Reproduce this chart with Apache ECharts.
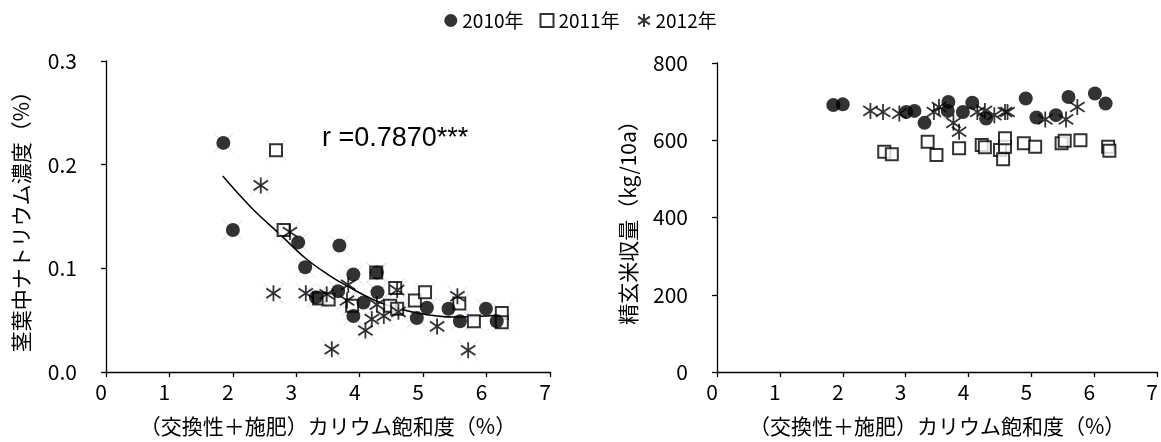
<!DOCTYPE html>
<html><head><meta charset="utf-8">
<script src="https://cdn.jsdelivr.net/npm/echarts@6/dist/echarts.min.js"></script>
<style>html,body{margin:0;padding:0;background:#fff}#c{width:1161px;height:442px}</style>
</head><body><div id="c"></div>
<script>
const seriesNames = ['2010年', '2011年', '2012年'];
const xAxisTitle = '（交換性＋施肥）カリウム飽和度（%）';
const leftYTitle = '茎葉中ナトリウム濃度（%）';
const rightYTitle = '精玄米収量（kg/10a）';
const corrText = 'r =0.7870***';

// Left chart: potassium saturation (%) vs sodium concentration (%)
const na2010 = [[1.85,0.221],[2.00,0.137],[3.03,0.125],[3.14,0.101],[3.31,0.072],[3.66,0.078],[3.68,0.122],[3.90,0.094],[3.90,0.054],[4.06,0.067],[4.27,0.096],[4.28,0.077],[4.90,0.052],[5.06,0.062],[5.40,0.061],[5.58,0.049],[5.99,0.061],[6.16,0.049]];
const na2011 = [[2.68,0.214],[2.80,0.137],[3.36,0.071],[3.51,0.070],[3.88,0.064],[4.26,0.096],[4.48,0.064],[4.56,0.081],[4.59,0.061],[4.87,0.069],[5.03,0.077],[5.57,0.066],[5.80,0.049],[6.24,0.057],[6.24,0.048]];
const na2012 = [[2.44,0.180],[2.90,0.135],[2.64,0.076],[3.15,0.076],[3.48,0.075],[3.82,0.084],[3.80,0.069],[3.56,0.022],[4.09,0.040],[4.19,0.051],[4.38,0.054],[4.27,0.065],[4.59,0.079],[4.61,0.058],[5.22,0.044],[5.54,0.073],[5.71,0.021]];
const naTrend = [[1.84,0.189],[2.3,0.158],[2.74,0.133],[3.14,0.110],[3.5,0.094],[3.8,0.083],[4.32,0.067],[4.9,0.057],[5.5,0.053],[6.21,0.055]];

// Right chart: potassium saturation (%) vs brown rice yield (kg/10a)
const yd2010 = [[1.85,691],[2.00,693],[3.01,673],[3.14,676],[3.30,645],[3.67,676],[3.68,699],[3.91,673],[4.06,697],[4.28,656],[4.91,708],[5.08,659],[5.39,665],[5.59,712],[6.01,721],[6.18,695]];
const yd2011 = [[2.66,570],[2.78,564],[3.35,596],[3.49,562],[3.85,579],[4.21,588],[4.26,582],[4.50,575],[4.55,551],[4.58,583],[4.58,605],[4.88,592],[5.06,583],[5.48,592],[5.53,599],[5.78,600],[6.22,583],[6.24,573]];
const yd2012 = [[2.44,676],[2.64,673],[2.90,669],[3.45,673],[3.53,686],[3.76,645],[3.85,622],[4.14,673],[4.26,676],[4.41,665],[4.58,673],[4.62,673],[5.22,654],[5.55,654],[5.73,686]];

const JP = '"Noto Sans CJK JP", "Noto Sans", sans-serif';
const STAR = 'path://M10,0L10,20M1,4L19,16M1,16L19,4';
const FAINTX = 'path://M0,0L20,20M0,20L20,0';

function xAxisDef(gi) {
  return {
    type: 'value', gridIndex: gi, min: 0, max: 7, interval: 1,
    axisLine: { show: true, onZero: false, lineStyle: { color: '#000', width: 1.3 } },
    axisTick: { show: true, inside: false, length: 5, lineStyle: { color: '#000', width: 1.3 } },
    splitLine: { show: false },
    axisLabel: { color: '#000', fontSize: 21, fontFamily: JP, margin: 10, padding: [0, 10, 0, 0] },
    name: xAxisTitle, nameLocation: 'middle', nameGap: 44,
    nameTextStyle: { color: '#000', fontSize: 21, fontFamily: JP }
  };
}
function yAxisDef(gi, max, interval, title, fmt, gap) {
  return {
    type: 'value', gridIndex: gi, min: 0, max: max, interval: interval,
    axisLine: { show: true, onZero: false, lineStyle: { color: '#000', width: 1.3 } },
    axisTick: { show: true, inside: false, length: 5, lineStyle: { color: '#000', width: 1.3 } },
    splitLine: { show: false },
    axisLabel: { color: '#000', fontSize: 21, fontFamily: JP, margin: 29, formatter: fmt },
    name: title, nameLocation: 'middle', nameGap: gap, nameRotate: 90,
    nameTextStyle: { color: '#000', fontSize: 21, fontFamily: JP }
  };
}
function circleSeries(name, data, xi) {
  return { name: name, type: 'scatter', xAxisIndex: xi, yAxisIndex: xi, data: data,
    symbol: 'circle', symbolSize: 14, itemStyle: { color: '#000' }, z: 5 };
}
function squareSeries(name, data, xi) {
  return { name: name, type: 'scatter', xAxisIndex: xi, yAxisIndex: xi, data: data,
    symbol: 'emptyRect', symbolSize: 12, itemStyle: { color: '#000', borderWidth: 1.7 }, z: 4 };
}
function starSeries(name, data, xi) {
  return { name: name, type: 'scatter', xAxisIndex: xi, yAxisIndex: xi, data: data,
    symbol: STAR, symbolSize: 16, symbolKeepAspect: true,
    itemStyle: { color: 'none', borderColor: '#000', borderWidth: 1.8 }, z: 6 };
}

const chart = echarts.init(document.getElementById('c'), null, { renderer: 'canvas' });
chart.setOption({
  backgroundColor: '#fff',
  animation: false,
  legend: {
    data: seriesNames, top: 6, left: 'center', itemGap: 16, itemWidth: 13, itemHeight: 13,
    textStyle: { color: '#000', fontSize: 19, fontFamily: JP }
  },
  grid: [
    { left: 106, right: 611, top: 61, bottom: 69 },
    { left: 717, right: 2, top: 63, bottom: 69 }
  ],
  xAxis: [xAxisDef(0), xAxisDef(1)],
  yAxis: [
    yAxisDef(0, 0.3, 0.1, leftYTitle, v => v.toFixed(1), 74),
    yAxisDef(1, 800, 200, rightYTitle, v => String(v), 78)
  ],
  graphic: [{
    type: 'text', left: 322, top: 125,
    style: { text: corrText, fill: '#000', font: '27px "Liberation Sans", Arial, sans-serif' }
  }],
  series: [
    { name: 'faint', type: 'scatter', xAxisIndex: 0, yAxisIndex: 0,
      data: na2010.concat(na2011, na2012), symbol: FAINTX, symbolSize: 20, silent: true,
      itemStyle: { color: 'none', borderColor: '#d6cfe9', borderWidth: 1 }, z: 1 },
    { name: 'trend', type: 'line', xAxisIndex: 0, yAxisIndex: 0, data: naTrend, smooth: 0.4,
      showSymbol: false, lineStyle: { color: '#000', width: 1.5 }, z: 3, silent: true },
    circleSeries(seriesNames[0], na2010, 0),
    squareSeries(seriesNames[1], na2011, 0),
    starSeries(seriesNames[2], na2012, 0),
    circleSeries(seriesNames[0], yd2010, 1),
    squareSeries(seriesNames[1], yd2011, 1),
    starSeries(seriesNames[2], yd2012, 1)
  ]
});
</script></body></html>
